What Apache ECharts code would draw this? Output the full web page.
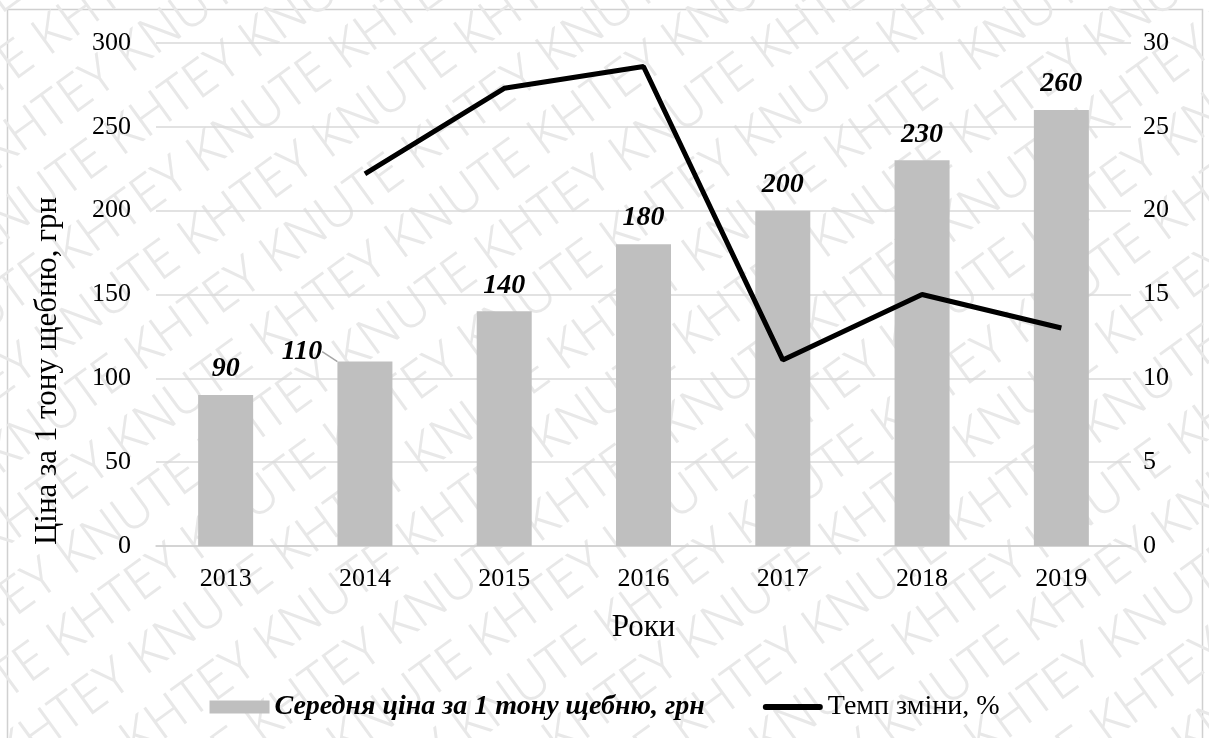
<!DOCTYPE html>
<html>
<head>
<meta charset="utf-8">
<script src="https://cdn.jsdelivr.net/npm/echarts@6/dist/echarts.min.js"></script>
<style>
  html, body { margin: 0; padding: 0; background: #fff; }
  #chart { width: 1209px; height: 738px; }
</style>
</head>
<body>
<div id="chart"></div>
<script>
// Середня ціна щебню та темп її зміни
const years = ['2013', '2014', '2015', '2016', '2017', '2018', '2019'];
const avgPrice = [90, 110, 140, 180, 200, 230, 260];
const changeRate = [null, 22.2, 27.3, 28.6, 11.1, 15.0, 13.0];
const priceTicks = [0, 50, 100, 150, 200, 250, 300];
const rateTicks = [0, 5, 10, 15, 20, 25, 30];

const serif = '"Liberation Serif", "Times New Roman", serif';
const chart = echarts.init(document.getElementById('chart'), null, { renderer: 'canvas' });

// Background watermark rows
const markRows = [];
for (let i = -13; i <= 13; i++) {
  markRows.push({
    type: 'text',
    x: -950 + (i % 2) * 110,
    y: i * 62,
    style: {
      text: 'KHTEY KNUTE KHTEY KNUTE KHTEY KNUTE KHTEY KNUTE KHTEY KNUTE',
      font: '300 52px "Noto Sans", "Liberation Sans", sans-serif',
      fill: '#e8e8e8'
    }
  });
}

chart.setOption({
  animation: false,
  backgroundColor: '#fff',
  grid: { left: 156, right: 78, top: 43, bottom: 192, containLabel: false },
  legend: {
    top: 688,
    left: 'center',
    itemGap: 58,
    itemWidth: 60,
    itemHeight: 13,
    textStyle: { fontFamily: serif, fontSize: 28, color: '#000' },
    data: [
      {
        name: 'Середня ціна за 1 тону щебню, грн',
        icon: 'rect',
        textStyle: { fontWeight: 'bold', fontStyle: 'italic' }
      },
      {
        name: 'Темп зміни, %',
        icon: 'path://M3,0H57A3,3 0 0 1 57,6H3A3,3 0 0 1 3,0Z'
      }
    ]
  },
  xAxis: {
    type: 'category',
    data: years,
    name: 'Роки',
    nameLocation: 'middle',
    nameGap: 66,
    nameTextStyle: { fontFamily: serif, fontSize: 31, color: '#000' },
    axisLine: { lineStyle: { color: '#d0d0d0', width: 1.5 } },
    axisTick: { show: false },
    axisLabel: { fontFamily: serif, fontSize: 26, color: '#000', margin: 20 }
  },
  yAxis: [
    {
      type: 'value',
      min: priceTicks[0],
      max: priceTicks[priceTicks.length - 1],
      interval: 50,
      axisLine: { show: false },
      axisTick: { show: false },
      splitLine: { lineStyle: { color: '#d9d9d9', width: 1.5 } },
      axisLabel: { fontFamily: serif, fontSize: 26, color: '#000', margin: 25 }
    },
    {
      type: 'value',
      min: rateTicks[0],
      max: rateTicks[rateTicks.length - 1],
      interval: 5,
      axisLine: { show: false },
      axisTick: { show: false },
      splitLine: { show: false },
      axisLabel: { fontFamily: serif, fontSize: 26, color: '#000', margin: 12 }
    }
  ],
  graphic: [
    {
      type: 'group',
      x: 604, y: 369,
      rotation: 36 * Math.PI / 180,
      silent: true,
      z: -10,
      children: markRows
    },
    {
      type: 'rect',
      silent: true,
      z: -5,
      shape: { x: 7.5, y: 9.5, width: 1195, height: 760 },
      style: { fill: 'none', stroke: '#d0d0d0', lineWidth: 1.5 }
    },
    {
      type: 'text',
      x: 48, y: 371,
      rotation: Math.PI / 2,
      style: {
        text: 'Ціна за 1 тону щебню, грн',
        font: '31px ' + serif,
        fill: '#000',
        align: 'center',
        verticalAlign: 'middle'
      }
    }
  ],
  series: [
    {
      name: 'Середня ціна за 1 тону щебню, грн',
      type: 'bar',
      barWidth: 55,
      itemStyle: { color: '#bfbfbf' },
      data: avgPrice.map((v, i) => i === 1
        ? { value: v, labelLine: { show: true, lineStyle: { color: '#a6a6a6', width: 1.5 } } }
        : v),
      label: {
        show: true,
        position: 'top',
        distance: 12,
        fontFamily: serif,
        fontSize: 28,
        fontWeight: 'bold',
        fontStyle: 'italic',
        color: '#000'
      },
      labelLayout: (p) => p.dataIndex === 1 ? { dx: -63, dy: 16 } : {}
    },
    {
      name: 'Темп зміни, %',
      type: 'line',
      yAxisIndex: 1,
      data: changeRate,
      showSymbol: false,
      symbol: 'none',
      lineStyle: { color: '#000', width: 5 },
      itemStyle: { color: '#000' },
      z: 5
    }
  ]
});
</script>
</body>
</html>
